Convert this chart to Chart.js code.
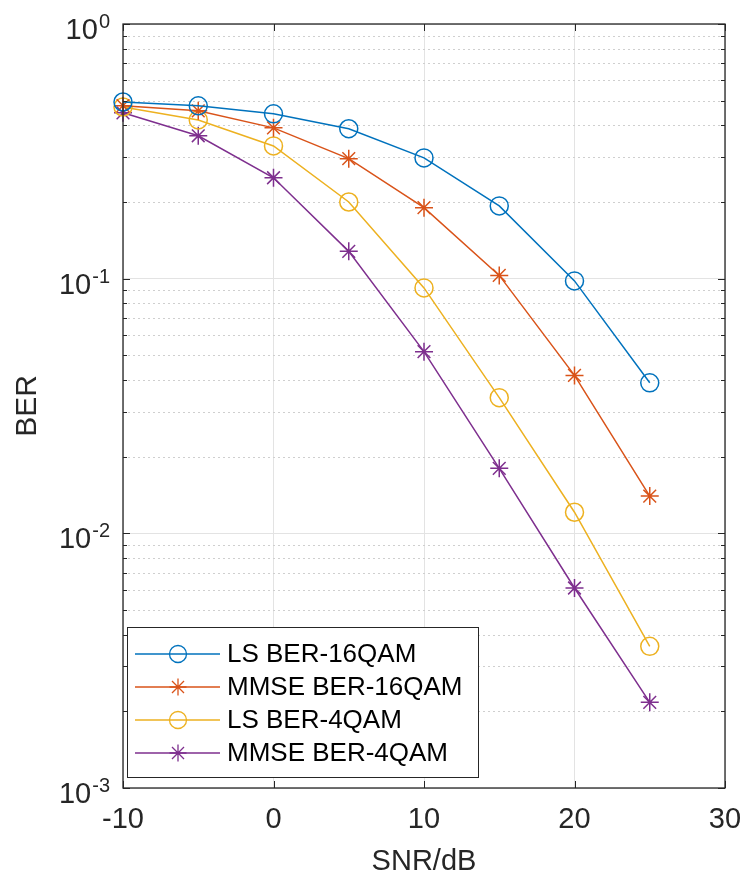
<!DOCTYPE html>
<html>
<head>
<meta charset="utf-8">
<script src="https://cdn.jsdelivr.net/npm/chart.js@4.4.1/dist/chart.umd.min.js"></script>
<style>
  body { margin: 0; background: #fff; }
  #wrap { width: 745px; height: 879px; position: relative; }
</style>
</head>
<body>
<div id="wrap"><canvas id="ber"></canvas></div>
<script>
// SNR points (dB) and BER curves
const snr = [-10, -5, 0, 5, 10, 15, 20, 25];
const lsBer16 = [0.494, 0.477, 0.444, 0.388, 0.298, 0.193, 0.098, 0.039];
const mmseBer16 = [0.478, 0.456, 0.391, 0.296, 0.19, 0.103, 0.0417, 0.014];
const lsBer4 = [0.472, 0.42, 0.332, 0.2, 0.092, 0.0341, 0.0121, 0.0036];
const mmseBer4 = [0.448, 0.364, 0.249, 0.128, 0.0517, 0.018, 0.0061, 0.00217];

const seriesNames = ["LS BER-16QAM", "MMSE BER-16QAM", "LS BER-4QAM", "MMSE BER-4QAM"];
const seriesColors = ["#0072BD", "#D95319", "#EDB120", "#7E2F8E"];
const seriesMarkers = ["circle", "star", "circle", "star"];

// axis ticks
const xTicks = [-10, 0, 10, 20, 30];
const yDecades = [1e-3, 1e-2, 1e-1, 1];
const yExponents = ["-3", "-2", "-1", "0"];
const yMinorSteps = [2, 3, 4, 5, 6, 7, 8, 9];

const FONT = "'Liberation Sans', Arial, Helvetica, sans-serif";
const INK = "#262626";

const allSeries = [lsBer16, mmseBer16, lsBer4, mmseBer4];

// dotted minor grid under the data
const minorGrid = {
  id: "minorGrid",
  beforeDatasetsDraw(chart) {
    const { ctx, chartArea: a } = chart;
    const y = chart.scales.y;
    ctx.save();
    ctx.strokeStyle = "#cfcfcf";
    ctx.lineWidth = 1;
    ctx.setLineDash([2, 3]);
    yDecades.slice(0, -1).forEach(d => {
      yMinorSteps.forEach(m => {
        const py = Math.round(y.getPixelForValue(d * m)) + 0.5;
        ctx.beginPath();
        ctx.moveTo(a.left, py);
        ctx.lineTo(a.right, py);
        ctx.stroke();
      });
    });
    ctx.restore();
  }
};

// box, inward ticks and 10^n labels
const axesBox = {
  id: "axesBox",
  afterDatasetsDraw(chart) {
    const { ctx, chartArea: a } = chart;
    const x = chart.scales.x, y = chart.scales.y;
    ctx.save();
    ctx.strokeStyle = INK;
    ctx.lineWidth = 1.3;
    ctx.strokeRect(a.left, a.top, a.right - a.left, a.bottom - a.top);

    ctx.lineWidth = 1;
    ctx.beginPath();
    xTicks.forEach(v => {
      const px = Math.round(x.getPixelForValue(v)) + 0.5;
      ctx.moveTo(px, a.bottom); ctx.lineTo(px, a.bottom - 7);
      ctx.moveTo(px, a.top); ctx.lineTo(px, a.top + 7);
    });
    yDecades.forEach(d => {
      const py = Math.round(y.getPixelForValue(d)) + 0.5;
      ctx.moveTo(a.left, py); ctx.lineTo(a.left + 7, py);
      ctx.moveTo(a.right, py); ctx.lineTo(a.right - 7, py);
    });
    yDecades.slice(0, -1).forEach(d => {
      yMinorSteps.forEach(m => {
        const py = Math.round(y.getPixelForValue(d * m)) + 0.5;
        ctx.moveTo(a.left, py); ctx.lineTo(a.left + 4, py);
        ctx.moveTo(a.right, py); ctx.lineTo(a.right - 4, py);
      });
    });
    ctx.stroke();

    ctx.fillStyle = INK;
    ctx.textBaseline = "alphabetic";
    ctx.textAlign = "left";
    yDecades.forEach((d, i) => {
      const py = y.getPixelForValue(d);
      const right = a.left - 13;
      ctx.font = "20px " + FONT;
      const ew = ctx.measureText(yExponents[i]).width;
      ctx.fillText(yExponents[i], right - ew, py + 4);
      ctx.font = "29px " + FONT;
      const bw = ctx.measureText("10").width;
      ctx.fillText("10", right - ew - bw - 1, py + 15);
    });
    ctx.restore();
  }
};

// legend box in the lower left corner of the axes
const boxLegend = {
  id: "boxLegend",
  afterDraw(chart) {
    const { ctx, chartArea: a } = chart;
    const left = a.left + 4, top = a.bottom - 161, w = 351, h = 150;
    ctx.save();
    ctx.fillStyle = "#fff";
    ctx.fillRect(left, top, w, h);
    ctx.strokeStyle = INK;
    ctx.lineWidth = 1;
    ctx.strokeRect(left + 0.5, top + 0.5, w, h);
    ctx.font = "26px " + FONT;
    ctx.textBaseline = "middle";
    seriesNames.forEach((name, i) => {
      const cy = top + 27 + i * 33;
      ctx.strokeStyle = seriesColors[i];
      ctx.lineWidth = 1.3;
      ctx.beginPath();
      ctx.moveTo(left + 8, cy);
      ctx.lineTo(left + 93, cy);
      ctx.stroke();
      ctx.fillStyle = "rgba(0,0,0,0)";
      Chart.helpers.drawPoint(ctx, { pointStyle: seriesMarkers[i], radius: 8.5, borderWidth: 1.3, rotation: 0 }, left + 51, cy);
      ctx.fillStyle = "#000";
      ctx.fillText(name, left + 100, cy + 1);
    });
    ctx.restore();
  }
};

new Chart(document.getElementById("ber"), {
  type: "line",
  data: {
    datasets: allSeries.map((vals, i) => ({
      label: seriesNames[i],
      data: snr.map((s, k) => ({ x: s, y: vals[k] })),
      borderColor: seriesColors[i],
      backgroundColor: "rgba(0,0,0,0)",
      borderWidth: 1.5,
      pointStyle: seriesMarkers[i],
      pointRadius: 9,
      pointBorderWidth: 1.5,
      pointBorderColor: seriesColors[i],
      pointBackgroundColor: "rgba(0,0,0,0)",
      tension: 0,
      clip: false
    }))
  },
  options: {
    responsive: true,
    maintainAspectRatio: false,
    devicePixelRatio: 1,
    animation: false,
    layout: { padding: { top: 24, right: 20, left: 0, bottom: 0 } },
    plugins: { legend: { display: false }, tooltip: { enabled: false } },
    scales: {
      x: {
        type: "linear",
        min: -10,
        max: 30,
        afterFit: s => { s.height = 91; s.paddingLeft = 0; s.paddingRight = 0; },
        afterBuildTicks: s => { s.ticks = xTicks.map(v => ({ value: v })); },
        grid: { color: "#e3e3e3", drawTicks: false },
        border: { display: false },
        ticks: { color: INK, font: { family: FONT, size: 29 }, padding: 15, maxRotation: 0 },
        title: { display: true, text: "SNR/dB", color: INK, font: { family: FONT, size: 29 }, padding: { top: 0, bottom: 0 } }
      },
      y: {
        type: "logarithmic",
        min: 1e-3,
        max: 1,
        afterFit: s => { s.width = 123; s.paddingTop = 0; s.paddingBottom = 0; },
        afterBuildTicks: s => { s.ticks = yDecades.map(v => ({ value: v })); },
        grid: { color: "#e3e3e3", drawTicks: false },
        border: { display: false },
        ticks: { display: false },
        title: { display: true, text: "BER", color: INK, font: { family: FONT, size: 30 }, padding: { top: 10, bottom: 0 } }
      }
    }
  },
  plugins: [minorGrid, axesBox, boxLegend]
});
</script>
</body>
</html>
